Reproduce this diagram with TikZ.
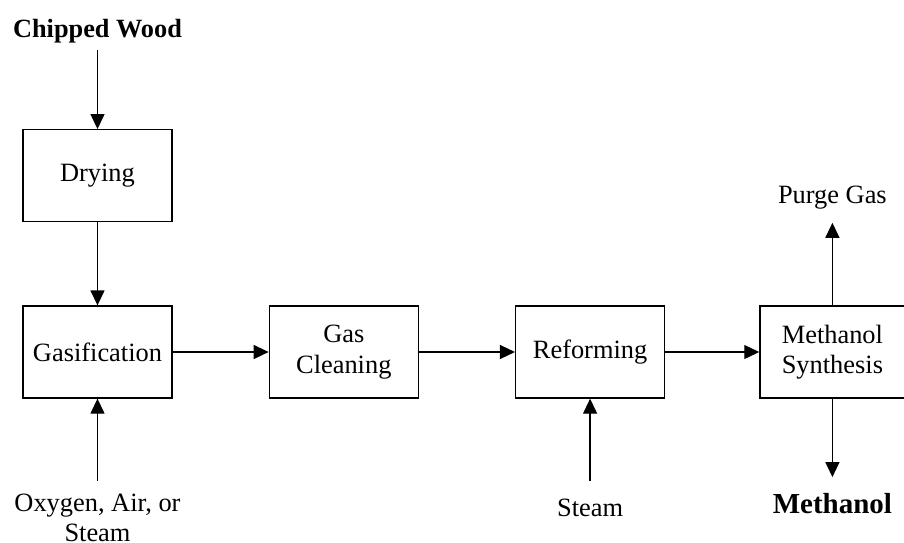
\documentclass[tikz,border=0pt]{standalone}
\usepackage{fontspec}
\setmainfont{Liberation Serif}
\usetikzlibrary{arrows.meta, positioning}

\begin{document}
\begin{tikzpicture}[
  x=1pt, y=-1pt,
  node distance=83pt and 96pt,
  box/.style={rectangle, draw, line width=1.3pt, minimum width=149pt, minimum height=92pt, align=center, font=\fontsize{26.4}{30.5}\selectfont},
  txt/.style={inner sep=0pt, align=center, font=\fontsize{26.4}{30}\selectfont},
  arrow/.style={-{Triangle[length=15pt,width=14pt]}, line width=1.3pt}
]
  \useasboundingbox (0,0) rectangle (904,542);

  % process boxes
  \node[box] (gasif) at (97.5,352) {Gasification};
  \node[box, above=of gasif] (drying) {Drying};
  \node[box, right=of gasif] (clean) {Gas\\Cleaning};
  \node[box, right=of clean] (reform) {Reforming};
  \node[box, right=94pt of reform, minimum width=145pt] (msyn) {Methanol\\Synthesis};

  % rows of the feed and product texts
  \coordinate (toprow) at (0,198);
  \coordinate (steamrow) at (0,508);
  \coordinate (meohrow) at (0,503.5);

  % feeds and products
  \node[txt, font=\bfseries\fontsize{26.3}{30}\selectfont] (chipped) at (97.5,31) {Chipped Wood};
  \node[txt] (oxy) at (97.5,518) {Oxygen, Air, or\\Steam};
  \node[txt] (steam) at (reform |- steamrow) {Steam};
  \node[txt] (purge) at (msyn |- toprow) {Purge Gas};
  \node[txt, font=\bfseries\fontsize{29}{32}\selectfont] (meoh) at (msyn |- meohrow) {Methanol};

  \draw[arrow] ([yshift=-7pt]chipped.south) -- (drying);
  \draw[arrow] (drying) -- (gasif);
  \draw[arrow] (gasif) -- (clean);
  \draw[arrow] (clean) -- (reform);
  \draw[arrow] (reform) -- (msyn);
  \draw[arrow] ([yshift=13pt]oxy.north) -- (gasif);
  \draw[arrow] ([yshift=18pt]steam.north) -- (reform);
  \draw[arrow] (msyn) -- ([yshift=-13pt]purge.south);
  \draw[arrow] (msyn) -- ([yshift=16pt]meoh.north);
\end{tikzpicture}
\end{document}
